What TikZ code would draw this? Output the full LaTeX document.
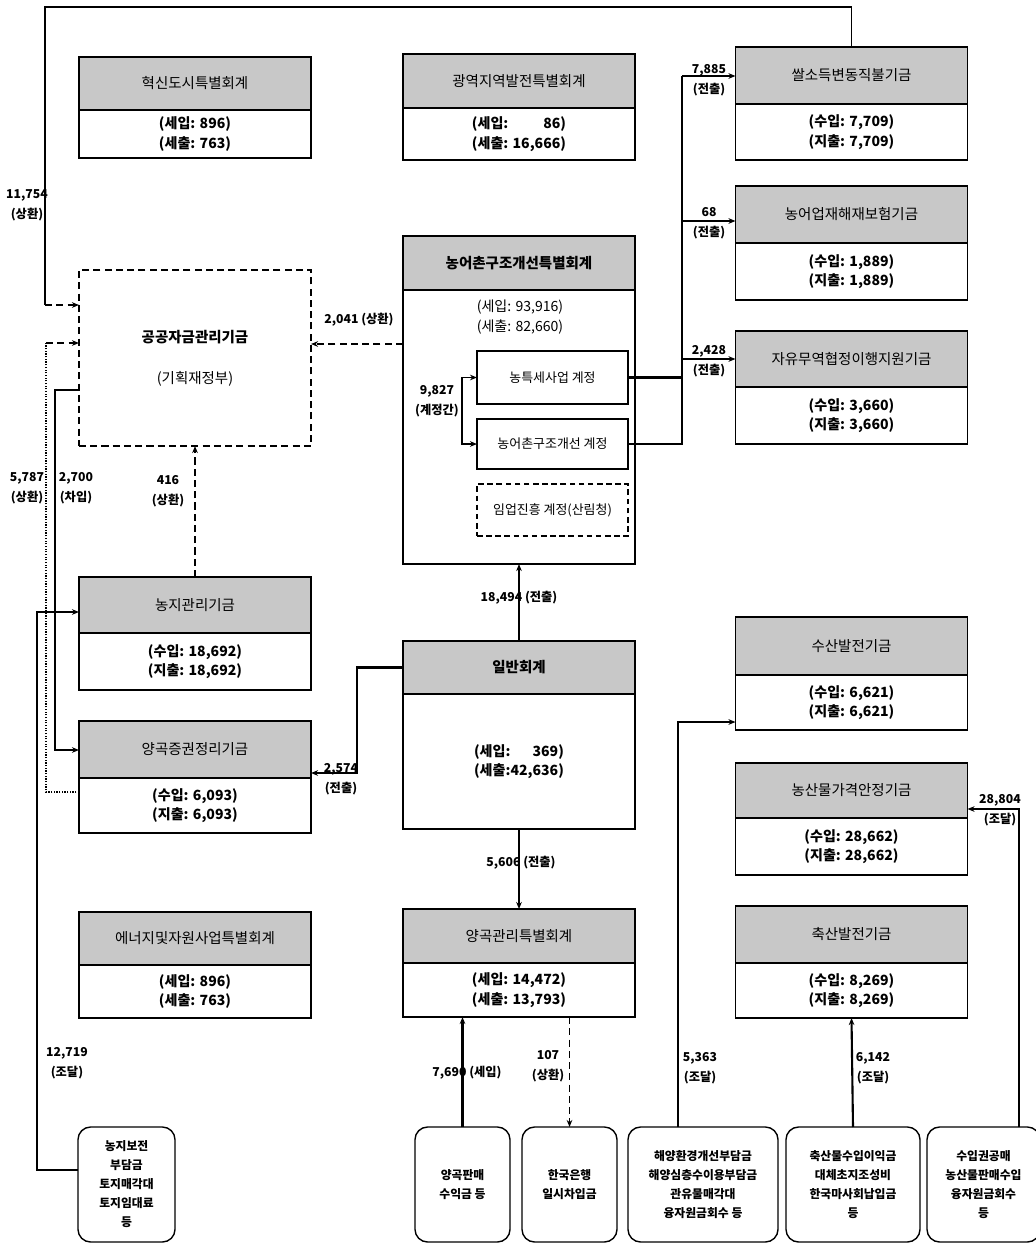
\documentclass[tikz,border=0pt]{standalone}
\usepackage{fontspec}
\setmainfont{Noto Sans CJK KR}
\usepackage{tikz}
\usetikzlibrary{positioning, arrows.meta}

\definecolor{hdgray}{RGB}{200,200,200}
\newcommand{\hdfont}{\fontsize{10.3pt}{13pt}\selectfont}
\newcommand{\bdfont}{\fontsize{10pt}{14pt}\selectfont\bfseries}
\newcommand{\subfont}{\fontsize{9.2pt}{12pt}\selectfont}
\newcommand{\srcfont}{\fontsize{8.4pt}{13.5pt}\selectfont\bfseries}
\newcommand{\lbfont}{\fontsize{8.7pt}{14pt}\selectfont\bfseries}

\tikzset{
  hd/.style={draw, line width=1pt, fill=hdgray, minimum width=5.8cm, minimum height=1.4cm, inner sep=0pt, outer sep=0pt, font=\hdfont},
  bd/.style={draw, line width=1pt, fill=white, minimum width=5.8cm, minimum height=1.375cm, inner sep=0pt, outer sep=0pt, align=center, font=\bdfont},
  acct/.style={draw, line width=1pt, minimum width=3.775cm, minimum height=1.3cm, inner sep=0pt, outer sep=0pt, font=\subfont},
  src/.style={draw, line width=1pt, rounded corners=9pt, minimum height=2.875cm, inner sep=0pt, outer sep=0pt, align=center, font=\srcfont},
  conn/.style={line width=1.5pt},
  dconn/.style={line width=1.4pt, dash pattern=on 5pt off 3pt},
  lbl/.style={align=center, font=\lbfont, inner sep=0pt},
}

\begin{document}
\begin{tikzpicture}[x=0.025cm, y=-0.025cm, >={Stealth[length=5pt,width=4pt]}]
\useasboundingbox (0,0) rectangle (1036,1243);

% left column
\node[hd, minimum height=1.325cm] (hsH) at (195,83.5) {혁신도시특별회계};
\node[bd, minimum height=1.2cm, below=0pt of hsH] (hsB) {(세입: 896)\\(세출: 763)};

\node[draw, line width=1pt, dash pattern=on 5pt off 3pt, minimum width=5.8cm, minimum height=4.4cm, align=center, outer sep=0pt, font=\hdfont] (gg) at (195,358) {{\bfseries 공공자금관리기금}\\[16pt](기획재정부)};

\node[hd] (njH) at (195,605) {농지관리기금};
\node[bd, minimum height=1.425cm, below=0pt of njH] (njB) {(수입: 18,692)\\(지출: 18,692)};
\node[hd, minimum height=1.425cm] (ygjH) at (195,749.5) {양곡증권정리기금};
\node[bd, below=0pt of ygjH] (ygjB) {(수입: 6,093)\\(지출: 6,093)};
\node[hd, minimum height=1.325cm] (enH) at (195,938.5) {에너지및자원사업특별회계};
\node[bd, minimum height=1.325cm, below=0pt of enH] (enB) {(세입: 896)\\(세출: 763)};

% middle column
\node[hd, minimum height=1.35cm] (gyH) at (519,81) {광역지역발전특별회계};
\node[bd, minimum height=1.3cm, below=0pt of gyH] (gyB) {(세입: \phantom{16,6}86)\\(세출: 16,666)};
\node[hd, minimum height=1.35cm, font=\hdfont\bfseries] (ncH) at (519,263) {농어촌구조개선특별회계};
\node[bd, minimum height=6.85cm, below=0pt of ncH] (ncB) {};
\node[font=\fontsize{10pt}{14pt}\selectfont, align=center] (ncT) at (520,317) {(세입: 93,916)\\(세출: 82,660)};
\node[acct, minimum height=1.325cm] (ntA) at (552.5,377.5) {농특세사업 계정};
\node[acct, minimum height=1.25cm] (ncA) at (552.5,444) {농어촌구조개선 계정};
\node[acct, dash pattern=on 4pt off 2.5pt] (imA) at (552.5,510) {임업진흥 계정(산림청)};

\node[hd, minimum height=1.325cm, font=\hdfont\bfseries] (ilH) at (519,667.5) {일반회계};
\node[bd, minimum height=3.375cm, below=0pt of ilH] (ilB) {(세입:\phantom{42,}369)\\(세출:42,636)};
\node[hd, minimum height=1.35cm] (ygrH) at (519,936) {양곡관리특별회계};
\node[bd, minimum height=1.35cm, below=0pt of ygrH] (ygrB) {(세입: 14,472)\\(세출: 13,793)};

% right column
\node[hd, minimum height=1.425cm] (ssH) at (851.5,75.5) {쌀소득변동직불기금};
\node[bd, minimum height=1.4cm, below=0pt of ssH] (ssB) {(수입: 7,709)\\(지출: 7,709)};
\node[hd, minimum height=1.425cm] (jhH) at (851.5,214.5) {농어업재해재보험기금};
\node[bd, minimum height=1.425cm, below=0pt of jhH] (jhB) {(수입: 1,889)\\(지출: 1,889)};
\node[hd] (ftaH) at (851.5,359) {자유무역협정이행지원기금};
\node[bd, minimum height=1.425cm, below=0pt of ftaH] (ftaB) {(수입: 3,660)\\(지출: 3,660)};
\node[hd, minimum height=1.45cm] (sbH) at (851.5,646) {수산발전기금};
\node[bd, below=0pt of sbH] (sbB) {(수입: 6,621)\\(지출: 6,621)};
\node[hd, minimum height=1.375cm] (npH) at (851.5,790.5) {농산물가격안정기금};
\node[bd, minimum height=1.425cm, below=0pt of npH] (npB) {(수입: 28,662)\\(지출: 28,662)};
\node[hd, minimum height=1.425cm] (cbH) at (851.5,934.5) {축산발전기금};
\node[bd, below=0pt of cbH] (cbB) {(수입: 8,269)\\(지출: 8,269)};

% sources
\node[src, minimum width=2.425cm] (s1) at (126.5,1184.5) {농지보전\\부담금\\토지매각대\\토지임대료\\등};
\node[src, minimum width=2.375cm] (s2) at (462.5,1184.5) {양곡판매\\수익금 등};
\node[src, minimum width=2.375cm] (s3) at (569.5,1184.5) {한국은행\\일시차입금};
\node[src, minimum width=3.75cm] (s4) at (703,1184.5) {해양환경개선부담금\\해양심층수이용부담금\\관유물매각대\\융자원금회수 등};
\node[src, minimum width=3.35cm] (s5) at (853,1184.5) {축산물수입이익금\\대체초지조성비\\한국마사회납입금\\등};
\node[src, minimum width=2.825cm] (s6) at (983.5,1184.5) {수입권공매\\농산물판매수입\\융자원금회수\\등};

% into 공공자금관리기금
\coordinate (top1) at (45,305);
\draw[line width=1pt] (ssH.north) |- (45,7) -- (top1);
\draw[dconn, ->] (top1) -- (top1 -| gg.west);
\coordinate (rep1) at (46,343);
\coordinate (rep1b) at (46,792);
\draw[line width=0.9pt, densely dotted] (rep1b -| ygjB.west) -- (rep1b) -- (rep1);
\draw[dconn, ->] (rep1) -- (rep1 -| gg.west);
\coordinate (brw1) at (55,390);
\coordinate (brw1b) at (55,750);
\draw[conn, ->] (brw1 -| gg.west) -- (brw1) -- (brw1b) -- (brw1b -| ygjH.west);
\draw[dconn, ->] (njH.north) -- (gg.south);
\coordinate (rep2) at (403,344);
\draw[dconn, ->] (rep2 -| ncB.west) -- (rep2 -| gg.east);
\coordinate (src1) at (37,1170);
\coordinate (src1b) at (37,612);
\draw[conn, ->] (src1 -| s1.west) -- (src1) -- (src1b) -- (src1b -| njH.west);

% from 일반회계
\draw[conn, ->] (ilH.north) -- (ncB.south);
\draw[conn, ->] (ilB.south) -- (ygrH.north);
\coordinate (tr1) at (357,773);
\draw[conn, ->] (ilH.west) -| (tr1) -- (tr1 -| ygjH.east);

% inside 농어촌구조개선특별회계
\coordinate (acc) at (462,410);
\draw[line width=1.2pt, <->] (ntA.west) -- (ntA.west -| acc) -- (ncA.west -| acc) -- (ncA.west);
\coordinate (tr2) at (682,76);
\coordinate (tr3) at (682,221);
\coordinate (tr4) at (682,359);
\draw[conn] (ncA.east) -| (tr2);
\draw[conn] (ntA.east) -- (ntA.east -| tr2);
\draw[conn, ->] (tr2) -- (tr2 -| ssH.west);
\draw[conn, ->] (tr3) -- (tr3 -| jhH.west);
\draw[conn, ->] (tr4) -- (tr4 -| ftaH.west);

% sources to funds
\coordinate (pr1) at (678,722);
\draw[conn, ->] (pr1 |- s4.north) -- (pr1) -- (pr1 -| sbB.west);
\draw[conn, ->] (s5.north) -- (cbB.south);
\coordinate (pr2) at (1019,809);
\draw[conn, ->] (pr2 |- s6.north) -- (pr2) -- (pr2 -| npH.east);
\draw[conn, ->] (s2.north) -- (s2.north |- ygrB.south);
\draw[dconn, ->] (s3.north |- ygrB.south) -- (s3.north);

% amounts
\node[lbl] (l1) at (27,205) {11,754\\(상환)};
\node[lbl] (l2) at (27,488) {5,787\\(상환)};
\node[lbl] (l3) at (76,488) {2,700\\(차입)};
\node[lbl] (l4) at (168,491) {416\\(상환)};
\node[lbl] (l5) at (359,320) {2,041 (상환)};
\node[lbl] (l6) at (67,1063) {12,719\\(조달)};
\node[lbl] (l7) at (341,779) {2,574\\(전출)};
\node[lbl] (l8) at (519,598) {18,494 (전출)};
\node[lbl] (l9) at (521,863) {5,606 (전출)};
\node[lbl] (l10) at (709,80) {7,885\\(전출)};
\node[lbl] (l11) at (709,223) {68\\(전출)};
\node[lbl] (l12) at (709,361) {2,428\\(전출)};
\node[lbl] (l13) at (437,401) {9,827\\(계정간)};
\node[lbl] (l14) at (700,1068) {5,363\\(조달)};
\node[lbl] (l15) at (873,1068) {6,142\\(조달)};
\node[lbl] (l16) at (1000,810) {28,804\\(조달)};
\node[lbl] (l17) at (467,1073) {7,690 (세입)};
\node[lbl] (l18) at (548,1066) {107\\(상환)};
\end{tikzpicture}
\end{document}
